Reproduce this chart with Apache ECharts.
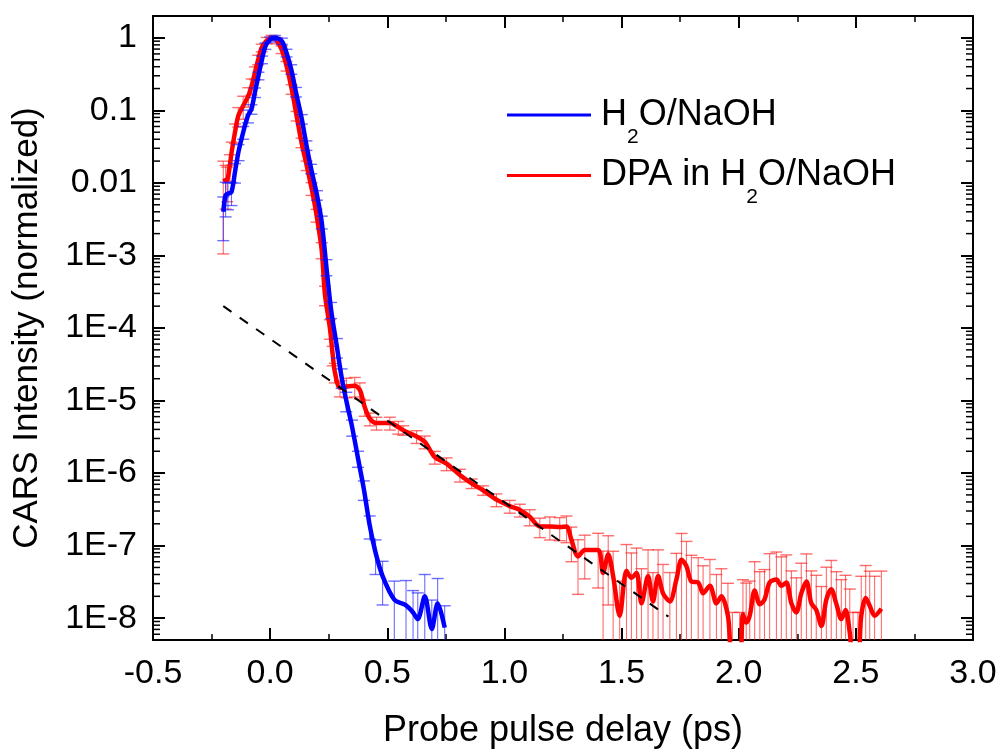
<!DOCTYPE html>
<html>
<head>
<meta charset="utf-8">
<script src="https://cdn.jsdelivr.net/npm/echarts@6/dist/echarts.min.js"></script>
<style>html,body{margin:0;padding:0;background:#fff}#c{width:1001px;height:754px}</style>
</head>
<body>
<div id="c"></div>
<script>
// ---------- data ----------
const blueName = 'H2O/NaOH';
const redName = 'DPA in H2O/NaOH';

const blueX = [-0.2, -0.19, -0.18, -0.165, -0.15, -0.135, -0.115, -0.095, -0.08, -0.065,
  -0.05, -0.035, -0.02, 0.0, 0.02, 0.05, 0.07, 0.09, 0.11, 0.135,
  0.155, 0.175, 0.2, 0.22, 0.24, 0.26, 0.285, 0.305, 0.325, 0.35,
  0.375, 0.4, 0.425, 0.45, 0.48, 0.53, 0.58, 0.61, 0.63, 0.66,
  0.69, 0.715, 0.745];
const blueY = [4.0e-3, 6.8e-3, 7.1e-3, 7.5e-3, 0.0142, 0.027, 0.05, 0.084, 0.104, 0.177,
  0.30, 0.50, 0.77, 0.95, 1.0, 0.90, 0.62, 0.37, 0.18, 0.076,
  0.033, 0.0157, 6.8e-3, 2.9e-3, 7e-4, 1.8e-4, 5.5e-5, 2.1e-5, 1.0e-5, 4.3e-6,
  1.6e-6, 6e-7, 1.9e-7, 8e-8, 3.8e-8, 1.8e-8, 1.5e-8, 1.2e-8, 9.7e-9, 2.0e-8,
  7.1e-9, 1.6e-8, 7.4e-9];
const blueErr = [0.6, 0.5, 0.4, 0.35, 0.3, 0.25, 0.2, 0.2, 0.15, 0.15,
  0.12, 0.12, 0.1, 0.08, 0.08, 0.1, 0.12, 0.15, 0.15, 0.15,
  0.15, 0.15, 0.15, 0.2, 0.25, 0.25, 0.3, 0.3, 0.3, 0.25,
  0.25, 0.3, 0.35, 0.5, 0.6, 0.8, 1.2, 1.0, 1.3, 1.0,
  1.5, 1.2, 1.0];

const redX = [-0.2, -0.19, -0.183, -0.172, -0.164, -0.15, -0.136, -0.115, -0.093, -0.079,
  -0.065, -0.051, -0.036, -0.015, 0.006, 0.028, 0.049, 0.07, 0.092, 0.113,
  0.134, 0.156, 0.177, 0.198, 0.22, 0.234, 0.255, 0.267, 0.276, 0.298,
  0.326, 0.361, 0.383, 0.404, 0.426, 0.454, 0.511, 0.547, 0.568, 0.625,
  0.66, 0.703, 0.753, 0.81, 0.86, 0.909, 0.966, 1.023, 1.066, 1.108,
  1.151, 1.194, 1.236, 1.265, 1.286, 1.314, 1.343, 1.4, 1.421, 1.443,
  1.464, 1.492, 1.521, 1.542, 1.564, 1.585, 1.613, 1.634, 1.656, 1.677,
  1.706, 1.734, 1.756, 1.777, 1.798, 1.827, 1.848, 1.877, 1.905, 1.926,
  1.954, 1.973, 2.004, 2.018, 2.032, 2.047, 2.068, 2.09, 2.11, 2.132,
  2.161, 2.182, 2.203, 2.225, 2.246, 2.267, 2.289, 2.31, 2.331, 2.353,
  2.374, 2.395, 2.417, 2.438, 2.456, 2.474, 2.488, 2.509, 2.523, 2.542,
  2.559, 2.58, 2.609];
const redY = [0.0105, 0.0109, 0.011, 0.0175, 0.027, 0.05, 0.084, 0.116, 0.158, 0.217,
  0.332, 0.5, 0.73, 0.92, 1.0, 0.92, 0.69, 0.41, 0.196, 0.084,
  0.036, 0.0174, 0.0084, 0.0036, 0.0012, 2.9e-4, 1.0e-4, 4.3e-5, 2.5e-5, 1.5e-5,
  1.56e-5, 1.6e-5, 1.4e-5, 8.1e-6, 5.6e-6, 4.9e-6, 4.9e-6, 4.3e-6, 3.9e-6, 3.2e-6,
  2.7e-6, 1.66e-6, 1.35e-6, 9.4e-7, 7.2e-7, 5.8e-7, 4.3e-7, 3.5e-7, 3.1e-7, 2.5e-7,
  1.84e-7, 1.84e-7, 1.8e-7, 1.83e-7, 1.2e-7, 7.1e-8, 8.7e-8, 8.7e-8, 4.2e-8, 7.6e-8,
  3.8e-8, 1.08e-8, 4.5e-8, 3.6e-8, 4.2e-8, 1.6e-8, 3.8e-8, 1.7e-8, 3.8e-8, 2.2e-8,
  1.7e-8, 3.4e-8, 6.4e-8, 5.2e-8, 3.2e-8, 3.1e-8, 2.2e-8, 2.8e-8, 1.6e-8, 2.0e-8,
  1.08e-8, 3e-9, 3e-9, 1.13e-8, 8.7e-9, 1.08e-8, 2.4e-8, 1.56e-8, 1.8e-8, 3.1e-8,
  3.4e-8, 2.8e-8, 3.1e-8, 1.6e-8, 1.2e-8, 2.2e-8, 3.2e-8, 1.6e-8, 1.3e-8, 7.8e-9,
  1.8e-8, 2.5e-8, 1.56e-8, 9.7e-9, 1.3e-8, 6.3e-9, 3e-9, 3e-9, 1.08e-8, 1.9e-8,
  1.48e-8, 1.08e-8, 1.35e-8];
const redErr = [0.9, 0.6, 0.5, 0.4, 0.35, 0.3, 0.3, 0.35, 0.3, 0.25,
  0.2, 0.15, 0.12, 0.1, 0.08, 0.1, 0.12, 0.15, 0.15, 0.15,
  0.15, 0.15, 0.2, 0.2, 0.25, 0.3, 0.3, 0.3, 0.3, 0.25,
  0.3, 0.3, 0.25, 0.25, 0.2, 0.2, 0.2, 0.2, 0.15, 0.2,
  0.2, 0.2, 0.2, 0.2, 0.15, 0.15, 0.2, 0.2, 0.2, 0.25,
  0.3, 0.35, 0.35, 0.4, 0.5, 0.7, 0.6, 0.7, 1.0, 0.8,
  1.2, 2.0, 1.3, 1.2, 1.2, 2.0, 1.3, 1.5, 1.3, 1.5,
  1.5, 1.3, 1.3, 1.2, 1.3, 1.2, 1.4, 1.3, 1.5, 1.4,
  1.8, 3, 3, 2.0, 2.5, 2.0, 1.5, 1.8, 1.6, 1.5,
  1.4, 1.5, 1.4, 1.8, 2.0, 1.6, 1.4, 1.8, 2.0, 2.5,
  1.8, 1.5, 1.8, 2.5, 2.0, 3, 3, 3, 2.5, 1.8,
  2.0, 2.5, 2.3];

// exponential fit (dashed)
const fitX = [-0.2, 1.7];
const fitY = [2.0e-4, 1.05e-8];

// axes
const xMin = -0.5, xMax = 3.0, xStep = 0.5;
const yMin = 5e-9, yMax = 2;
const yTickLabels = {0: '1', '-1': '0.1', '-2': '0.01', '-3': '1E-3', '-4': '1E-4',
  '-5': '1E-5', '-6': '1E-6', '-7': '1E-7', '-8': '1E-8'};
const minorMultipliers = [2, 3, 4, 5, 6, 7, 8, 9];
const decades = [-9, -8, -7, -6, -5, -4, -3, -2, -1, 0];

// ---------- build ----------
const FONT = '"Liberation Sans", Arial, Helvetica, sans-serif';
const BLUE = '#0000ff', RED = '#ff0000';

function pairs(xs, ys) { return xs.map((x, i) => [x, ys[i]]); }
function errRows(xs, ys, es) {
  return xs.map((x, i) => {
    const y = ys[i], e = es[i] == null ? 1 : es[i];
    return [x, Math.max(y * (1 - e), 1e-14), y * (1 + e)];
  });
}
const minorVals = [];
decades.forEach(d => minorMultipliers.forEach(m => {
  const v = m * Math.pow(10, d);
  if (v > yMin && v < yMax) minorVals.push([xMin, v]);
}));

function errorRender(color) {
  return function (params, api) {
    const cs = params.coordSys;
    const top = cs.y, bot = cs.y + cs.height;
    const x = api.value(0);
    const pHi = api.coord([x, api.value(2)]);
    const pLo = api.coord([x, api.value(1)]);
    const px = pHi[0];
    const yHi = pHi[1], yLo = pLo[1];
    const cap = 6;
    const children = [];
    const a = Math.max(top, Math.min(bot, yHi));
    const b = Math.max(top, Math.min(bot, yLo));
    if (b > a) children.push({type: 'line', shape: {x1: px, y1: a, x2: px, y2: b},
      style: {stroke: color, lineWidth: 1.1}});
    [yHi, yLo].forEach(yy => {
      if (yy >= top && yy <= bot) children.push({type: 'line',
        shape: {x1: px - cap, y1: yy, x2: px + cap, y2: yy},
        style: {stroke: color, lineWidth: 1.4}});
    });
    return {type: 'group', children};
  };
}

function minorRender(params, api) {
  const cs = params.coordSys;
  const v = api.value(1);
  const y = api.coord([xMin, v])[1];
  const xl = cs.x, xr = cs.x + cs.width;
  return {type: 'group', children: [
    {type: 'line', shape: {x1: xl, y1: y, x2: xl + 7, y2: y}, style: {stroke: '#000', lineWidth: 1.5}},
    {type: 'line', shape: {x1: xr - 7, y1: y, x2: xr, y2: y}, style: {stroke: '#000', lineWidth: 1.5}}
  ]};
}

function legendFmt(name) {
  const parts = name.split('H2O');
  return '{g|}' + parts.map(p => p ? '{n|' + p + '}' : '').join('{n|H}{s|2}{n|O}');
}

const axisLineStyle = {color: '#000', width: 2};
const baseX = {
  type: 'value', min: xMin, max: xMax, interval: xStep,
  axisLine: {show: true, onZero: false, lineStyle: axisLineStyle},
  axisTick: {show: true, inside: true, length: 12, lineStyle: {color: '#000', width: 2}},
  minorTick: {show: true, splitNumber: 2, length: 6, lineStyle: {color: '#000', width: 1.5}},
  splitLine: {show: false}
};
const baseY = {
  type: 'log', logBase: 10, min: yMin, max: yMax,
  axisLine: {show: true, onZero: false, lineStyle: axisLineStyle},
  axisTick: {show: true, inside: true, length: 12, lineStyle: {color: '#000', width: 2}},
  splitLine: {show: false}
};

const option = {
  animation: false,
  backgroundColor: '#fff',
  grid: {left: 153, right: 28, top: 16, bottom: 110, containLabel: false},
  xAxis: [
    Object.assign({}, baseX, {
      position: 'bottom',
      name: 'Probe pulse delay (ps)', nameLocation: 'middle', nameGap: 73,
      nameTextStyle: {fontSize: 36, fontFamily: FONT, color: '#000'},
      axisLabel: {show: true, fontSize: 34, fontFamily: FONT, color: '#000', margin: 17,
        formatter: v => v.toFixed(1)}
    }),
    Object.assign({}, baseX, {position: 'top', axisLabel: {show: false}})
  ],
  yAxis: [
    Object.assign({}, baseY, {
      position: 'left',
      name: 'CARS Intensity (normalized)', nameLocation: 'middle', nameGap: 108,
      nameTextStyle: {fontSize: 35, fontFamily: FONT, color: '#000'},
      axisLabel: {show: true, fontSize: 34, fontFamily: FONT, color: '#000', margin: 16,
        showMinLabel: false, showMaxLabel: false,
        formatter: v => {
          const e = Math.round(Math.log10(v));
          return yTickLabels[e] != null ? yTickLabels[e] : '';
        }}
    }),
    Object.assign({}, baseY, {position: 'right', axisLabel: {show: false}})
  ],
  legend: {
    orient: 'vertical', left: 502, top: 92, itemGap: 10,
    icon: 'rect', itemWidth: 84, itemHeight: 3,
    data: [blueName, redName],
    formatter: legendFmt,
    textStyle: {
      rich: {
        g: {width: 5},
        n: {fontSize: 36, fontFamily: FONT, color: '#000'},
        s: {fontSize: 21, fontFamily: FONT, color: '#000', padding: [44, 0, 0, 0]}
      }
    }
  },
  series: [
    {type: 'custom', name: 'redErr', xAxisIndex: 0, yAxisIndex: 0, silent: true,
      renderItem: errorRender('rgba(255,30,30,0.65)'), encode: {x: 0, y: [1, 2]},
      data: errRows(redX, redY, redErr), z: 2},
    {type: 'line', name: redName, data: pairs(redX, redY), showSymbol: false, symbol: 'none',
      smooth: 0.3, lineStyle: {color: RED, width: 4.5}, itemStyle: {color: RED}, z: 3},
    {type: 'custom', name: 'blueErr', xAxisIndex: 0, yAxisIndex: 0, silent: true,
      renderItem: errorRender('rgba(30,30,255,0.65)'), encode: {x: 0, y: [1, 2]},
      data: errRows(blueX, blueY, blueErr), z: 4},
    {type: 'line', name: blueName, data: pairs(blueX, blueY), showSymbol: false, symbol: 'none',
      smooth: 0.3, lineStyle: {color: BLUE, width: 4.5}, itemStyle: {color: BLUE}, z: 5},
    {type: 'line', name: 'fit', data: pairs(fitX, fitY), showSymbol: false, symbol: 'none',
      lineStyle: {color: '#000', width: 2, type: [10, 10]}, z: 6},
    {type: 'custom', name: 'minorTicks', silent: true, renderItem: minorRender,
      encode: {x: 0, y: 1}, data: minorVals, z: 10}
  ]
};

const chart = echarts.init(document.getElementById('c'), null, {renderer: 'canvas'});
chart.setOption(option);
</script>
</body>
</html>
